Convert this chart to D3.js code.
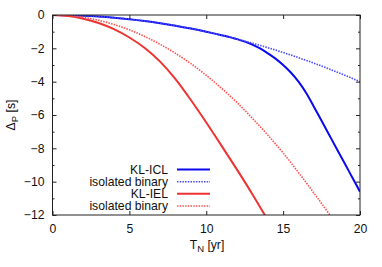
<!DOCTYPE html>
<html><head><meta charset="utf-8">
<script src="https://cdn.jsdelivr.net/npm/d3@7"></script>
<style>body{margin:0;background:#fff}svg{display:block}text{font-family:"Liberation Sans",Arial,sans-serif;}</style>
</head><body><svg id="c" width="382" height="267"></svg>
<script>
const xTicks = [0,5,10,15,20];
const yTicks = [0,-2,-4,-6,-8,-10,-12];
const yMinor = [-1,-3,-5,-7,-9,-11];
const seriesNames = ["KL-ICL","isolated binary","KL-IEL","isolated binary"];
const tIclSolid = [0,1,2,3,4,5,6,7,8,9,10,11,12,13,13.5,14,14.5,15,15.5,16,16.5,17,17.5,18,18.5,19,19.5,20];
const vIclSolid = [0,-0.01,-0.04,-0.09,-0.16,-0.25,-0.36,-0.49,-0.64,-0.81,-1.0,-1.21,-1.45,-1.78,-2.0,-2.3,-2.62,-3.0,-3.45,-4.0,-4.68,-5.5,-6.35,-7.2,-8.05,-8.9,-9.75,-10.6];
const tIclIso = [0,1,2,3,4,5,6,7,8,9,10,11,12,13,14,15,16,17,18,19,20];
const vIclIso = [0,-0.01,-0.04,-0.09,-0.16,-0.25,-0.36,-0.49,-0.64,-0.81,-1.0,-1.21,-1.44,-1.69,-1.96,-2.25,-2.56,-2.89,-3.24,-3.61,-4.0];
const tIelSolid = [0,1,2,3,4,5,6,7,8,9,10,11,12,13,14];
const vIelSolid = [0,-0.06,-0.22,-0.48,-0.85,-1.35,-1.98,-2.8,-3.85,-5.1,-6.45,-7.85,-9.28,-10.75,-12.3];
const tIelIso = [0,1,2,3,4,5,6,7,8,9,10,11,12,13,14,15,16,17,18,19];
const vIelIso = [0,-0.035,-0.14,-0.32,-0.57,-0.89,-1.29,-1.76,-2.3,-2.92,-3.62,-4.4,-5.25,-6.2,-7.2,-8.28,-9.45,-10.68,-11.95,-13.3];

const svg = d3.select("#c");
const L=52.5,R=360,T=15,B=215;
const x = d3.scaleLinear().domain([0,20]).range([L,R]);
const y = d3.scaleLinear().domain([-12,0]).range([B,T]);
const axisCol="#222";
const fs = 12.2;

svg.append("defs").append("clipPath").attr("id","clip").append("rect")
  .attr("x",L).attr("y",T).attr("width",R-L).attr("height",B-T);

const series = [
  {t:tIclSolid,v:vIclSolid,c:"#0a0aee",dash:null,w:2},
  {t:tIclIso,v:vIclIso,c:"#4a4aff",dash:"1.5,1.2",w:1.6},
  {t:tIelSolid,v:vIelSolid,c:"#ee3333",dash:null,w:2},
  {t:tIelIso,v:vIelIso,c:"#ff5050",dash:"1.5,1.2",w:1.6}
];
const line = d3.line().curve(d3.curveMonotoneX);
const g = svg.append("g").attr("clip-path","url(#clip)");
series.forEach(s=>{
  g.append("path").attr("d", line(s.t.map((t,i)=>[x(t),y(s.v[i])])))
   .attr("fill","none").attr("stroke",s.c).attr("stroke-width",s.w)
   .attr("stroke-dasharray",s.dash);
});

// axes
const ax = (gen, tr)=> svg.append("g").attr("transform",tr).call(gen);
ax(d3.axisBottom(x).tickValues(xTicks).tickSizeInner(-4).tickSizeOuter(0).tickPadding(9), `translate(0,${B})`);
ax(d3.axisTop(x).tickValues(xTicks).tickSizeInner(-4).tickSizeOuter(0).tickFormat(""), `translate(0,${T})`);
ax(d3.axisLeft(y).tickValues(yTicks).tickSizeInner(-4).tickSizeOuter(0).tickPadding(8), `translate(${L},0)`);
ax(d3.axisRight(y).tickValues(yTicks).tickSizeInner(-4).tickSizeOuter(0).tickFormat(""), `translate(${R},0)`);
ax(d3.axisLeft(y).tickValues(yMinor).tickSizeInner(-2).tickSizeOuter(0).tickFormat(""), `translate(${L},0)`);
ax(d3.axisRight(y).tickValues(yMinor).tickSizeInner(-2).tickSizeOuter(0).tickFormat(""), `translate(${R},0)`);
svg.selectAll(".domain").remove();
svg.selectAll(".tick line").attr("stroke",axisCol);
svg.selectAll(".tick text").attr("fill","#111").style("font-size",fs+"px").style("font-family","Liberation Sans, Arial, sans-serif");
svg.append("rect").attr("x",L).attr("y",T).attr("width",R-L).attr("height",B-T)
  .attr("fill","none").attr("stroke",axisCol).attr("stroke-width",1);

// axis titles
const xt = svg.append("text").attr("x",207).attr("y",249).attr("text-anchor","middle").attr("font-size",fs).attr("fill","#111");
xt.append("tspan").text("T");
xt.append("tspan").attr("dy",3).attr("font-size",9.5).text("N");
xt.append("tspan").attr("dy",-3).text(" [yr]");
const yt = svg.append("text").attr("transform","translate(15,115) rotate(-90)").attr("text-anchor","middle").attr("font-size",fs).attr("fill","#111");
yt.append("tspan").text("Δ");
yt.append("tspan").attr("dy",3).attr("font-size",9.5).text("P");
yt.append("tspan").attr("dy",-3).text(" [s]");

// legend
const ly = [169.5,181.7,193.8,206];
series.forEach((s,i)=>{
  svg.append("text").attr("x",168).attr("y",ly[i]+4).attr("text-anchor","end").attr("font-size",fs).attr("fill","#111").text(seriesNames[i]);
  svg.append("line").attr("x1",177).attr("x2",210).attr("y1",ly[i]).attr("y2",ly[i])
    .attr("stroke",s.c).attr("stroke-width",s.w).attr("stroke-dasharray",s.dash);
});
</script></body></html>
